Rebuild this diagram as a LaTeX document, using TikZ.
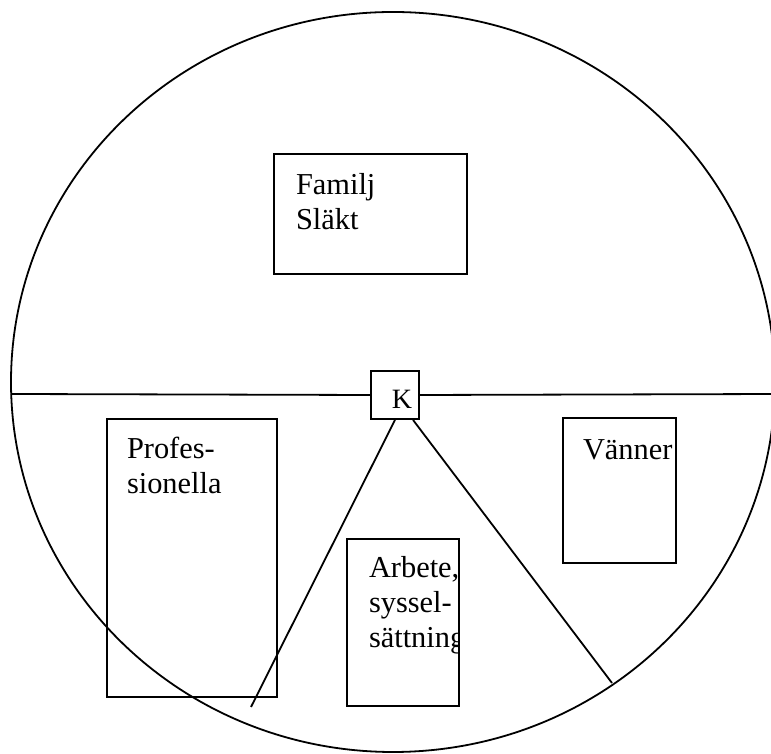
\documentclass[tikz,border=0pt]{standalone}
\usepackage{fontspec}
\setmainfont{Liberation Serif}
\usetikzlibrary{positioning, calc}

\tikzset{
	box/.style={draw, line width=0.9pt, inner sep=0pt},
	lbl/.style={inner sep=0pt, align=left, anchor=north west,
		font=\fontsize{15.2}{17.5}\selectfont},
}

\begin{document}
\begin{tikzpicture}[x=0.5pt, y=0.5pt, line width=0.9pt]
	\useasboundingbox (0,0) rectangle (771,754);
	\draw (393,372) ellipse [x radius=382, y radius=370];
	% boxes
	\node (K) [box, minimum size=24pt] at (395,359) {};
	\node (fam) [box, minimum width=96.5pt, minimum height=60pt] at (370.5,540) {};
	\node (prof) [box, minimum width=85pt, minimum height=139pt] at (192,196) {};
	\node (arb) [box, minimum width=56pt, minimum height=83.5pt] at (403,131.5) {};
	\node (van) [box, minimum width=56.5pt, minimum height=72.5pt] at (619.5,263.5) {};
	% texts
	\node (Klbl) [font=\fontsize{14}{16}\selectfont, inner sep=0pt] at ([xshift=3.5pt, yshift=-2pt]K.center) {K};
	\node (famlbl) [lbl] at ([xshift=11pt, yshift=-9.75pt]fam.north west) {Familj\\Släkt};
	\node (proflbl) [lbl] at ([xshift=10pt, yshift=-9.25pt]prof.north west) {Profes-\\sionella};
	\begin{scope}
		\clip (arb.north west) rectangle (arb.south east);
		\node (arblbl) [lbl] at ([xshift=11pt, yshift=-8.75pt]arb.north west) {Arbete,\\syssel-\\sättning};
	\end{scope}
	\node (vanlbl) [lbl] at ([xshift=10pt, yshift=-10.75pt]van.north west) {Vänner};
	% lines
	\coordinate (west) at (11,360);
	\coordinate (east) at (780,360);
	\coordinate (lend) at (251,47);
	\coordinate (rend) at (612,71);
	\draw (west) -- (K.west);
	\draw (K.east) -- (east);
	\draw (K.south) -- (lend);
	\draw ([xshift=9pt]K.south) -- (rend);
\end{tikzpicture}
\end{document}
